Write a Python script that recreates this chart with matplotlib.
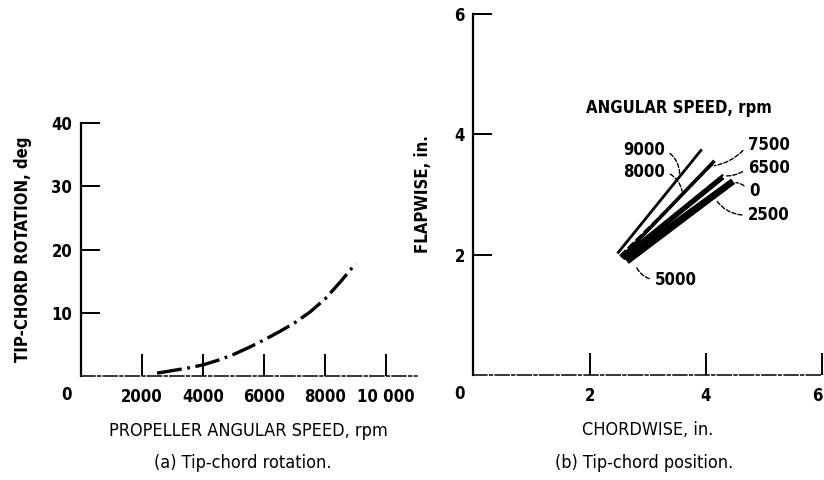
import matplotlib
matplotlib.use('Agg')
import matplotlib.pyplot as plt

# (a) tip-chord rotation vs propeller speed
rpm = [2500, 3000, 3500, 4000, 4500, 5000, 5500, 6000, 6500, 7000, 7500,
       8000, 8500, 9000]
rotation_deg = [0.45, 0.85, 1.25, 1.75, 2.5, 3.4, 4.5, 5.7, 7.0, 8.4, 10.1,
                12.2, 14.9, 17.8]

# (b) tip-chord position, one chord line per angular speed
speeds = ['0', '2500', '5000', '6500', '7500', '8000', '9000']
chord_lead = [2.62, 2.65, 2.58, 2.55, 2.52, 2.55, 2.48]
flap_lead = [1.92, 1.88, 1.93, 1.96, 1.98, 1.95, 2.02]
chord_trail = [4.47, 4.35, 4.30, 4.30, 4.12, 4.15, 3.93]
flap_trail = [3.22, 3.12, 3.28, 3.33, 3.50, 3.56, 3.75]

plt.rcParams['lines.scale_dashes'] = False
plt.rcParams['font.family'] = ['Liberation Sans Narrow', 'DejaVu Sans']
plt.rcParams['font.stretch'] = 'condensed'

fig = plt.figure(figsize=(8.24, 4.8), dpi=100)
ax1 = fig.add_axes([0.0979, 0.2167, 0.408, 0.527])
ax2 = fig.add_axes([0.5744, 0.2188, 0.4232, 0.752])

for ax in (ax1, ax2):
    ax.spines['top'].set_visible(False)
    ax.spines['right'].set_visible(False)
    ax.spines['left'].set_linewidth(1.6)
    ax.spines['bottom'].set_linewidth(1.1)
    ax.spines['bottom'].set_linestyle((0, (10, 2, 2, 2)))
    ax.tick_params(axis='x', direction='in', length=16, width=1.4, pad=9,
                   labelsize=12)
    ax.tick_params(axis='y', direction='in', length=14, width=1.4, pad=6,
                   labelsize=12)
    # the origin is labelled once, at the corner
    ax.annotate('0', xy=(0, 0), xytext=(-10, -14), textcoords='offset points',
                ha='center', va='center', fontsize=12, fontweight='bold',
                annotation_clip=False)

# left panel
ax1.plot(rpm, rotation_deg, color='black', lw=2.4, ls=(0, (18, 4, 2, 4)))
ax1.set_xlim(0, 11000)
ax1.set_ylim(0, 40)
ax1.set_xticks([2000, 4000, 6000, 8000, 10000])
ax1.set_xticklabels(['2000', '4000', '6000', '8000', '10 000'], fontweight='bold')
ax1.set_yticks([10, 20, 30, 40])
ax1.set_yticklabels(['10', '20', '30', '40'], fontweight='bold')
ax1.set_xlabel('PROPELLER ANGULAR SPEED, rpm', fontsize=13, labelpad=11)
ax1.set_ylabel('TIP-CHORD ROTATION, deg', fontsize=12, fontweight='bold',
               labelpad=14)
fig.text(0.295, 1 - 463 / 480, '(a) Tip-chord rotation.', ha='center',
         va='center', fontsize=13)

# right panel
widths = [4.8, 3.6, 2.6, 1.6, 1.2, 2.6, 2.0]
for i, s in enumerate(speeds):
    ax2.plot([chord_lead[i], chord_trail[i]], [flap_lead[i], flap_trail[i]],
             color='black', lw=widths[i], solid_capstyle='butt',
             ls=(0, (6, 2)) if s == '7500' else '-')
ax2.set_xlim(0, 6)
ax2.set_ylim(0, 6)
ax2.set_xticks([2, 4, 6])
ax2.set_xticklabels(['2', '4', '6'], fontweight='bold')
ax2.get_xticklabels()[-1].set_horizontalalignment('right')
ax2.set_yticks([2, 4, 6])
ax2.set_yticklabels(['2', '4', '6'], fontweight='bold')
ax2.set_xlabel('CHORDWISE, in.', fontsize=13, labelpad=11)
ax2.set_ylabel('FLAPWISE, in.', fontsize=12, fontweight='bold', labelpad=16)
fig.text(0.782, 1 - 463 / 480, '(b) Tip-chord position.', ha='center',
         va='center', fontsize=13)

ax2.text(3.53, 4.43, 'ANGULAR SPEED, rpm', ha='center', va='center',
         fontsize=12, fontweight='bold')

leader = dict(arrowstyle='-', lw=1.0, color='black', ls=(0, (3, 1.5)))
labels = [
    ('9000', (3.55, 3.30), (3.30, 3.74), 'right', -0.3),
    ('8000', (3.60, 3.01), (3.30, 3.38), 'right', -0.3),
    ('7500', (4.10, 3.47), (4.72, 3.82), 'left', -0.2),
    ('6500', (4.30, 3.31), (4.72, 3.44), 'left', -0.2),
    ('0', (4.47, 3.20), (4.74, 3.05), 'left', 0.3),
    ('2500', (4.15, 2.95), (4.72, 2.66), 'left', -0.3),
    ('5000', (2.78, 1.85), (3.12, 1.58), 'left', -0.3),
]
for txt, xy, xytext, ha, rad in labels:
    props = dict(leader, connectionstyle='arc3,rad=%s' % rad,
                 relpos=(1, 0.5) if ha == 'right' else (0, 0.5))
    ax2.annotate(txt, xy=xy, xytext=xytext, ha=ha, va='center', fontsize=12,
                 fontweight='bold', arrowprops=props)

fig.savefig('out.png', dpi=100)
